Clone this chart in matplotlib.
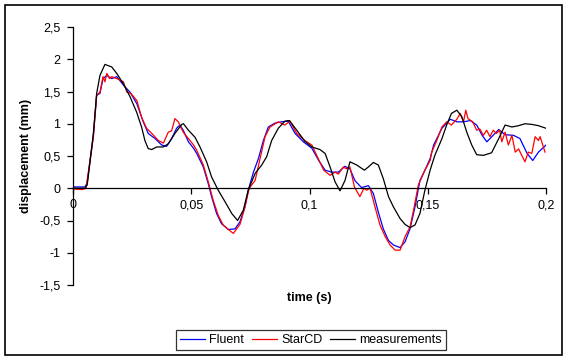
import matplotlib
matplotlib.use("Agg")
import matplotlib.pyplot as plt
from matplotlib.patches import Rectangle
from matplotlib.ticker import FuncFormatter

plt.rcParams['font.family'] = ['Liberation Sans', 'DejaVu Sans']

# ---- data ----
t_meas = [0.000, 0.005, 0.006, 0.0086, 0.010, 0.0114, 0.0135, 0.0164, 0.0185, 0.0213, 0.0241, 0.0269,
          0.029, 0.0304, 0.0318, 0.0333, 0.0354, 0.0382, 0.0403, 0.0431, 0.046, 0.0467, 0.0488, 0.0516,
          0.0537, 0.0565, 0.0586, 0.0614, 0.0643, 0.0671, 0.0696, 0.072, 0.0741, 0.077, 0.0798, 0.0819,
          0.084, 0.0868, 0.0896, 0.0915, 0.0946, 0.098, 0.101, 0.1044, 0.1066, 0.1087, 0.1108, 0.1129,
          0.115, 0.1171, 0.120, 0.1232, 0.1249, 0.127, 0.1291, 0.1312, 0.1334, 0.1355, 0.1383, 0.1404,
          0.1425, 0.1446, 0.1467, 0.1488, 0.151, 0.153, 0.156, 0.158, 0.160, 0.1623, 0.1644, 0.1665,
          0.1686, 0.1707, 0.1735, 0.177, 0.180, 0.1827, 0.1856, 0.1884, 0.1911, 0.194, 0.1968, 0.200]
measurements = [0.00, 0.00, 0.05, 0.85, 1.47, 1.75, 1.92, 1.88, 1.78, 1.62, 1.42, 1.18,
                0.95, 0.74, 0.615, 0.60, 0.64, 0.64, 0.69, 0.85, 0.99, 1.00, 0.90, 0.79,
                0.64, 0.41, 0.175, -0.03, -0.21, -0.39, -0.50, -0.34, -0.03, 0.23, 0.36, 0.49,
                0.74, 0.93, 1.04, 1.05, 0.90, 0.73, 0.64, 0.60, 0.54, 0.33, 0.10, -0.04,
                0.12, 0.41, 0.36, 0.28, 0.33, 0.40, 0.36, 0.15, -0.13, -0.29, -0.47, -0.56,
                -0.61, -0.57, -0.39, -0.03, 0.28, 0.51, 0.77, 0.98, 1.16, 1.21, 1.11, 0.87,
                0.67, 0.52, 0.51, 0.55, 0.77, 0.98, 0.95, 0.97, 1.00, 0.99, 0.97, 0.93]

t_fluent = [0.0, 0.005, 0.006, 0.0086, 0.010, 0.0114, 0.0127, 0.0143, 0.0164, 0.0185, 0.0213, 0.0241,
            0.027, 0.0297, 0.0318, 0.0347, 0.0375, 0.0396, 0.0417, 0.0438, 0.0452, 0.0466, 0.0488, 0.051,
            0.0523, 0.0551, 0.0572, 0.0586, 0.0607, 0.0628, 0.0657, 0.0685, 0.0706, 0.0727, 0.0741, 0.0763,
            0.0784, 0.0805, 0.0826, 0.0854, 0.0882, 0.091, 0.0939, 0.0974, 0.101, 0.1039, 0.1066, 0.1094,
            0.1122, 0.115, 0.1171, 0.1192, 0.122, 0.1249, 0.127, 0.1291, 0.1312, 0.1334, 0.1355, 0.1383,
            0.1404, 0.1425, 0.1446, 0.1467, 0.1488, 0.151, 0.1525, 0.156, 0.1595, 0.1623, 0.1651, 0.168,
            0.1707, 0.173, 0.175, 0.1771, 0.180, 0.1827, 0.1863, 0.189, 0.192, 0.1944, 0.1968, 0.200]
fluent = [0.02, 0.02, 0.08, 0.80, 1.44, 1.47, 1.70, 1.75, 1.70, 1.73, 1.60, 1.49,
          1.31, 1.03, 0.85, 0.77, 0.67, 0.65, 0.77, 0.93, 0.98, 0.90, 0.72, 0.62,
          0.54, 0.33, 0.07, -0.13, -0.39, -0.55, -0.64, -0.63, -0.52, -0.29, -0.03, 0.25,
          0.46, 0.74, 0.95, 1.01, 1.03, 1.04, 0.85, 0.72, 0.62, 0.43, 0.28, 0.25,
          0.25, 0.34, 0.30, 0.12, 0.01, 0.04, -0.08, -0.37, -0.63, -0.81, -0.88, -0.92,
          -0.83, -0.63, -0.29, 0.12, 0.28, 0.46, 0.67, 0.93, 1.07, 1.03, 1.03, 1.05,
          0.98, 0.82, 0.72, 0.80, 0.91, 0.83, 0.82, 0.77, 0.54, 0.43, 0.56, 0.67]

t_starcd = [0.0, 0.004, 0.0055, 0.0086, 0.010, 0.0114, 0.0127, 0.0135, 0.0143, 0.0155, 0.0164, 0.0185,
            0.0213, 0.0228, 0.0245, 0.027, 0.029, 0.0311, 0.0333, 0.0361, 0.0382, 0.0403, 0.0417, 0.0431,
            0.0445, 0.0466, 0.0488, 0.051, 0.0523, 0.0551, 0.0572, 0.0593, 0.0614, 0.0635, 0.0657, 0.0678,
            0.0692, 0.0706, 0.0727, 0.0745, 0.077, 0.0791, 0.0812, 0.0833, 0.0868, 0.0896, 0.0917, 0.0946,
            0.098, 0.101, 0.1033, 0.106, 0.1087, 0.1108, 0.1122, 0.1143, 0.1157, 0.1171, 0.119, 0.1213,
            0.123, 0.1242, 0.1256, 0.1277, 0.1298, 0.132, 0.1341, 0.1362, 0.1383, 0.1404, 0.1425, 0.144,
            0.146, 0.1488, 0.151, 0.1517, 0.1538, 0.156, 0.158, 0.160, 0.1623, 0.1637, 0.1651, 0.1661,
            0.167, 0.169, 0.1707, 0.172, 0.1735, 0.1749, 0.1763, 0.1777, 0.179, 0.1804, 0.1813, 0.1827,
            0.1841, 0.1856, 0.187, 0.1884, 0.1911, 0.1925, 0.194, 0.1954, 0.1968, 0.1975, 0.1996]
starcd = [-0.01, -0.02, 0.0, 0.80, 1.44, 1.49, 1.73, 1.65, 1.78, 1.70, 1.73, 1.70,
          1.65, 1.49, 1.47, 1.36, 1.10, 0.93, 0.85, 0.74, 0.70, 0.87, 0.89, 1.08,
          1.03, 0.87, 0.77, 0.67, 0.59, 0.36, 0.10, -0.19, -0.42, -0.57, -0.64, -0.70,
          -0.63, -0.56, -0.29, 0.0, 0.12, 0.46, 0.80, 0.95, 1.03, 0.98, 1.04, 0.85,
          0.74, 0.67, 0.49, 0.28, 0.20, 0.25, 0.22, 0.33, 0.30, 0.33, 0.02, -0.13,
          0.0, -0.03, 0.0, -0.29, -0.57, -0.75, -0.88, -0.96, -0.96, -0.75, -0.60, -0.34,
          0.05, 0.28, 0.43, 0.56, 0.74, 0.95, 1.03, 0.98, 1.07, 1.16, 1.03, 1.21,
          1.08, 1.03, 0.90, 0.92, 0.82, 0.90, 0.80, 0.90, 0.85, 0.90, 0.72, 0.87,
          0.67, 0.82, 0.56, 0.61, 0.41, 0.56, 0.54, 0.80, 0.74, 0.80, 0.56]

x_ticks = [0, 0.05, 0.1, 0.15, 0.2]
y_ticks = [-1.5, -1, -0.5, 0, 0.5, 1, 1.5, 2, 2.5]

# ---- figure ----
W, H = 564, 358
FS = 9
fig = plt.figure(figsize=(W / 100, H / 100), dpi=100)
ax = fig.add_axes([73 / W, 1 - 285 / H, (546 - 73) / W, (285 - 27) / H])

ax.plot(t_fluent, fluent, color='#0000ff', lw=0.9, label='Fluent')
ax.plot(t_starcd, starcd, color='#ff0000', lw=0.9, label='StarCD')
ax.plot(t_meas, measurements, color='black', lw=0.9, label='measurements')

ax.set_xlim(0, 0.2)
ax.set_ylim(-1.5, 2.5)
ax.set_xticks(x_ticks)
ax.set_yticks(y_ticks)

def comma(v, pos):
    return ('%g' % v).replace('.', ',')

ax.xaxis.set_major_formatter(FuncFormatter(comma))
ax.yaxis.set_major_formatter(FuncFormatter(comma))

for s in ['top', 'right']:
    ax.spines[s].set_visible(False)
ax.spines['bottom'].set_position(('data', 0))
for s in ['left', 'bottom']:
    ax.spines[s].set_color('black')
    ax.spines[s].set_linewidth(0.9)
ax.tick_params(axis='both', direction='out', length=4, width=0.9, labelsize=FS, colors='black')
ax.tick_params(axis='x', pad=4)
ax.tick_params(axis='y', pad=5)

fig.text(26 / W, 1 - 156 / H, 'displacement (mm)', rotation=90, ha='center', va='center',
         fontsize=FS, fontweight='bold')
fig.text(309.5 / W, 1 - 298 / H, 'time (s)', ha='center', va='center',
         fontsize=FS, fontweight='bold')

leg = fig.legend(loc='center', bbox_to_anchor=(311 / W, 1 - 340 / H), ncol=3, fontsize=FS,
                 frameon=True, fancybox=False, edgecolor='black', handlelength=2.0,
                 columnspacing=0.6, handletextpad=0.35, borderpad=0.35, borderaxespad=0)
leg.get_frame().set_linewidth(0.9)

fig.patches.append(Rectangle((5 / W, 3 / H), (562 - 5) / W, (353 - 3) / H, transform=fig.transFigure,
                             fill=False, edgecolor='black', linewidth=1.2))

fig.savefig('out.png', dpi=100)
